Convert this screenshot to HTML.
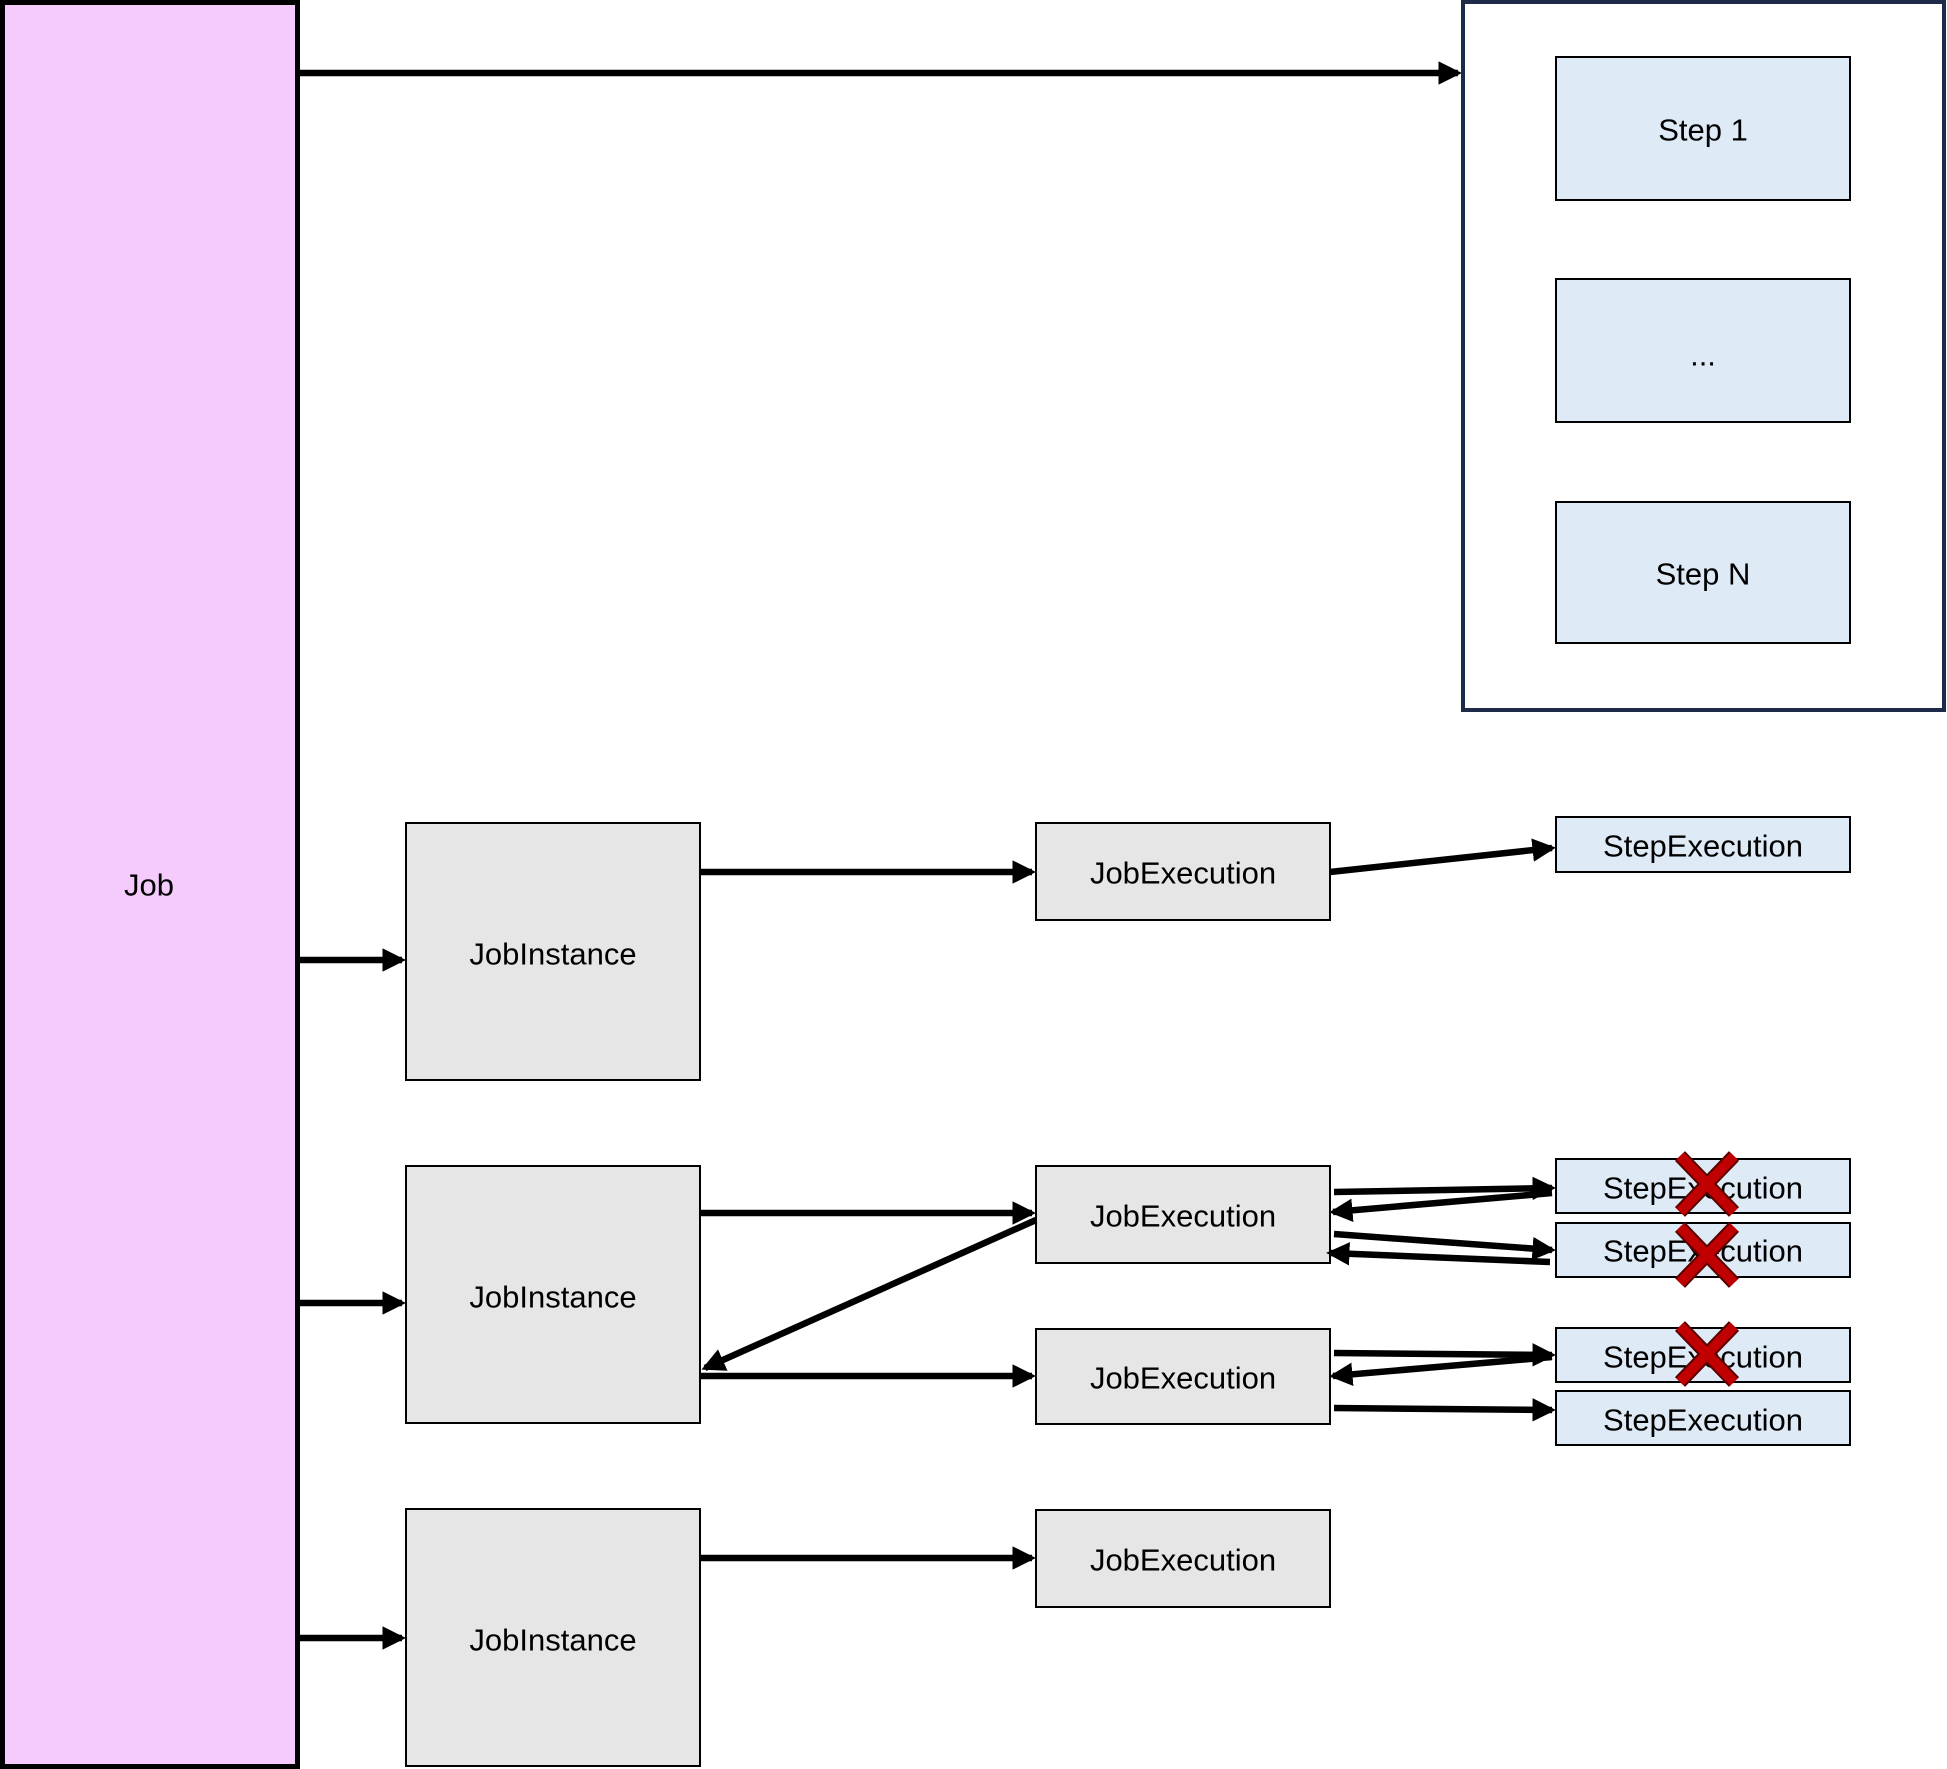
<!DOCTYPE html>
<html><head><meta charset="utf-8"><style>
html,body{margin:0;padding:0;background:#fff;}
svg{display:block;}
text{font-family:"Liberation Sans","Noto Sans CJK KR",sans-serif;font-size:31px;fill:#000;text-anchor:middle;dominant-baseline:central;}
</style></head><body>
<svg width="1947" height="1769" viewBox="0 0 1947 1769" xmlns="http://www.w3.org/2000/svg">
<defs>
<marker id="a" markerWidth="3.6" markerHeight="3.6" refX="3" refY="1.8" orient="auto" markerUnits="strokeWidth">
<path d="M0,0 L3.6,1.8 L0,3.6 z" fill="#000"/></marker>
</defs>
<rect x="2.5" y="2.5" width="295" height="1764" fill="#f5cbfd" stroke="#000" stroke-width="5"/>
<text x="149" y="885">Job</text>
<rect x="1463" y="2" width="481" height="708" fill="#fff" stroke="#1e2b48" stroke-width="4"/>
<g fill="#deeaf6" stroke="#000" stroke-width="2">
<rect x="1556" y="57" width="294" height="143"/>
<rect x="1556" y="279" width="294" height="143"/>
<rect x="1556" y="502" width="294" height="141"/>
<rect x="1556" y="817" width="294" height="55"/>
<rect x="1556" y="1159" width="294" height="54"/>
<rect x="1556" y="1223" width="294" height="54"/>
<rect x="1556" y="1328" width="294" height="54"/>
<rect x="1556" y="1391" width="294" height="54"/>
</g>
<g fill="#e6e6e6" stroke="#000" stroke-width="2">
<rect x="406" y="823" width="294" height="257"/>
<rect x="406" y="1166" width="294" height="257"/>
<rect x="406" y="1509" width="294" height="257"/>
<rect x="1036" y="823" width="294" height="97"/>
<rect x="1036" y="1166" width="294" height="97"/>
<rect x="1036" y="1329" width="294" height="95"/>
<rect x="1036" y="1510" width="294" height="97"/>
</g>
<text x="1703" y="130">Step 1</text>
<text x="1703" y="355">...</text>
<text x="1703" y="574">Step N</text>
<text x="1703" y="846">StepExecution</text>
<text x="1703" y="1188">StepExecution</text>
<text x="1703" y="1251">StepExecution</text>
<text x="1703" y="1357">StepExecution</text>
<text x="1703" y="1420">StepExecution</text>
<text x="553" y="954">JobInstance</text>
<text x="553" y="1297">JobInstance</text>
<text x="553" y="1640">JobInstance</text>
<text x="1183" y="873">JobExecution</text>
<text x="1183" y="1216">JobExecution</text>
<text x="1183" y="1378">JobExecution</text>
<text x="1183" y="1560">JobExecution</text>
<g stroke="#000" stroke-width="6.5" fill="none" marker-end="url(#a)">
<line x1="298" y1="73" x2="1458" y2="73"/>
<line x1="298" y1="960" x2="402" y2="960"/>
<line x1="298" y1="1303" x2="402" y2="1303"/>
<line x1="298" y1="1638" x2="402" y2="1638"/>
<line x1="700" y1="872" x2="1032" y2="872"/>
<line x1="700" y1="1213" x2="1032" y2="1213"/>
<line x1="700" y1="1376" x2="1032" y2="1376"/>
<line x1="700" y1="1558" x2="1032" y2="1558"/>
<line x1="1036" y1="1220" x2="705" y2="1368"/>
<line x1="1330" y1="872" x2="1552" y2="848"/>
<line x1="1334" y1="1192" x2="1552" y2="1188"/>
<line x1="1552" y1="1193" x2="1333" y2="1212"/>
<line x1="1334" y1="1234" x2="1552" y2="1250"/>
<line x1="1550" y1="1262" x2="1330" y2="1253"/>
<line x1="1334" y1="1353" x2="1552" y2="1355"/>
<line x1="1552" y1="1357" x2="1333" y2="1376"/>
<line x1="1334" y1="1408" x2="1552" y2="1410"/>
</g>
<g stroke="#5a0000" stroke-width="14">
<path d="M1680,1156 L1734,1212 M1734,1156 L1680,1212"/>
<path d="M1680,1227 L1734,1283 M1734,1227 L1680,1283"/>
<path d="M1680,1326 L1734,1382 M1734,1326 L1680,1382"/>
</g>
<g stroke="#c00000" stroke-width="10">
<path d="M1680,1156 L1734,1212 M1734,1156 L1680,1212"/>
<path d="M1680,1227 L1734,1283 M1734,1227 L1680,1283"/>
<path d="M1680,1326 L1734,1382 M1734,1326 L1680,1382"/>
</g>
</svg>
</body></html>
